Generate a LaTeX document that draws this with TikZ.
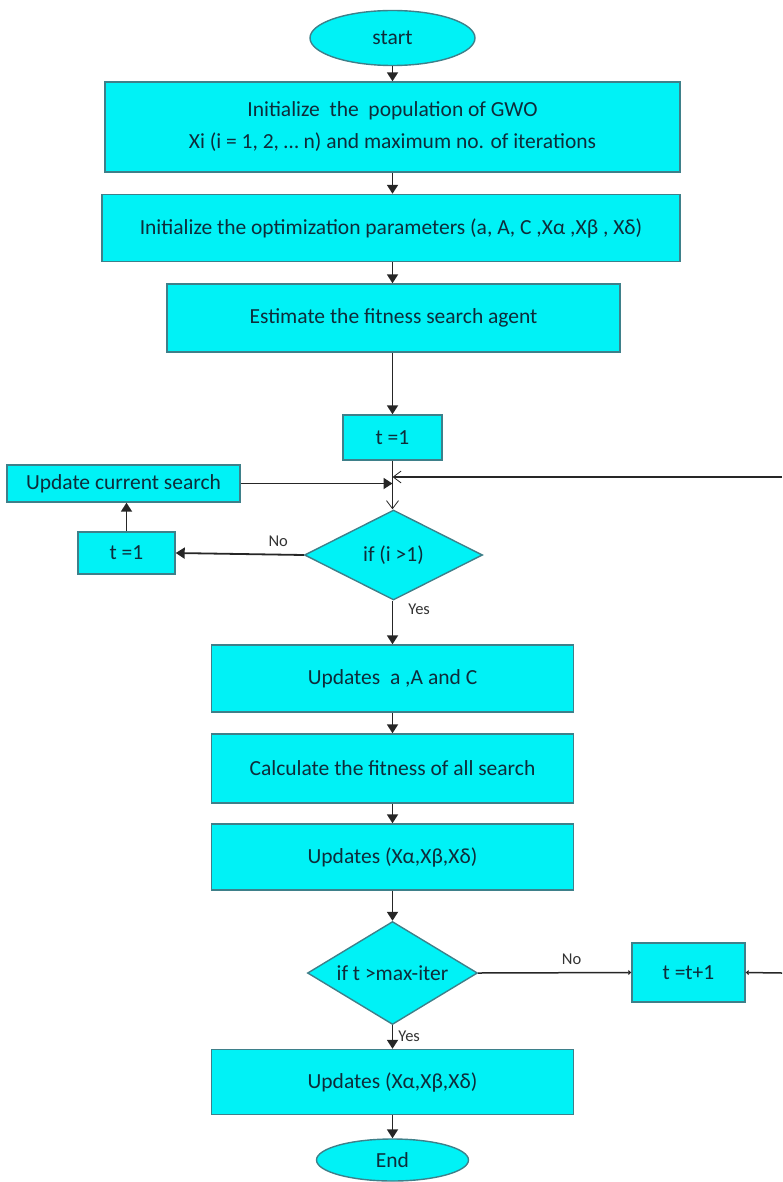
\documentclass[tikz,border=0pt]{standalone}
\usepackage{fontspec}
\setmainfont{Carlito}
\usetikzlibrary{shapes.geometric,arrows.meta}
\definecolor{boxfill}{RGB}{0,242,246}
\definecolor{boxline}{RGB}{62,128,138}
\definecolor{boxtext}{RGB}{14,44,58}

\begin{document}
\begin{tikzpicture}[x=1pt,y=-1pt,
  every node/.style={font=\fontsize{21.5}{32}\selectfont, text=boxtext},
  proc/.style={rectangle, draw=boxline, fill=boxfill, line width=1.4pt, inner sep=0pt, align=center},
  term/.style={ellipse, draw=boxline, fill=boxfill, line width=1.4pt, inner sep=0pt},
  decide/.style={diamond, draw=boxline, fill=boxfill, line width=1.4pt, inner sep=0pt},
  flow/.style={line width=1.8pt, draw=black!85, -{Triangle[width=11pt,length=9pt]}},
  thin flow/.style={line width=1.5pt, draw=black!85},
  open tip/.style={line width=1.5pt, draw=black!85, -{Straight Barb[width=12pt,length=8pt,line width=0.8pt]}},
  tag/.style={font=\fontsize{16.5}{19}\selectfont, text=black!80, inner sep=1pt}
]
\useasboundingbox (0,0) rectangle (782,1182);

% main column, all centred on x = 392.5
\node[term, minimum width=165pt, minimum height=55pt] (start) at (392.5,38) {start};
\node[proc, minimum width=575pt, minimum height=90pt] (b1) at (392.5,127)
  {Initialize\ \ the\ \ population of GWO\\Xi (i = 1, 2, … n) and maximum no. of iterations};
\node[proc, minimum width=578pt, minimum height=67pt] (b2) at (391,228)
  {Initialize the optimization parameters (a, A, C ,Xα ,Xβ , Xδ)};
\node[proc, minimum width=453pt, minimum height=68pt] (b3) at (393.5,318)
  {Estimate the fitness search agent};
\node[proc, minimum width=99pt, minimum height=45pt] (t1) at (392.5,437.5) {t =1};
\node[proc, minimum width=233pt, minimum height=37pt] (ucs) at (123.5,483.5) {Update current search};
\node[decide, aspect=2, minimum width=178pt, minimum height=90pt] (d1) at (393.5,555) {if (i >1)};
\node[proc, minimum width=97pt, minimum height=42pt] (t1b) at (126.5,553) {t =1};
\node[proc, minimum width=362pt, minimum height=67pt] (u1) at (392.5,678.5) {Updates\ \ a ,A and C};
\node[proc, minimum width=362pt, minimum height=69pt] (calc) at (392.5,768.5) {Calculate the fitness of all search};
\node[proc, minimum width=362pt, minimum height=66pt] (u2) at (392.5,857) {Updates (Xα,Xβ,Xδ)};
\node[decide, aspect=1.65, minimum width=170pt, minimum height=103pt] (d2) at (392.5,973) {if t >max-iter};
\node[proc, minimum width=113pt, minimum height=59pt] (tt) at (688.5,972.5) {t =t+1};
\node[proc, minimum width=362pt, minimum height=65pt] (u3) at (392.5,1082) {Updates (Xα,Xβ,Xδ)};
\node[term, minimum width=152pt, minimum height=42pt] (end) at (392.5,1160) {End};

% junction where the loops rejoin
\coordinate (j) at (392.5,477);
\coordinate (r1) at (782,477);
\coordinate (r2) at (782,973);

% connectors (vertical ones kept straight)
\draw[flow] (start) -- (b1);
\draw[flow] (b1.south -| start) -- (b2.north -| start);
\draw[flow] (b2.south -| start) -- (b3.north -| start);
\draw[flow] (b3.south -| t1) -- (t1);
\draw[thin flow] (t1) -- (j);
\draw[open tip] (r1) -- (j);
\draw[flow] (ucs.east) -- (ucs.east -| j);
\draw[open tip] (j) -- (d1.north -| j);
\draw[flow] (d1.west) -- (t1b.east) node[tag, pos=0.2, above=6pt] {No};
\draw[flow] (t1b.north) -- (t1b.north |- ucs.south);
\draw[flow] (d1.south -| j) -- (u1.north) node[tag, pos=0.2, right=14pt] {Yes};
\draw[flow] (u1) -- (calc);
\draw[flow] (calc) -- (u2);
\draw[flow] (u2) -- (d2);
\draw[thin flow, -{Triangle[width=5pt,length=3pt]}] (d2.east) -- (tt.west)
  node[tag, pos=0.61, above=6pt] {No};
\draw[thin flow, {Triangle[width=5pt,length=3pt]}-] (tt.east) -- (r2);
\draw[flow] (d2.south) -- (u3.north) node[tag, pos=0.45, right=4pt] {Yes};
\draw[flow] (u3) -- (end);
\end{tikzpicture}
\end{document}
